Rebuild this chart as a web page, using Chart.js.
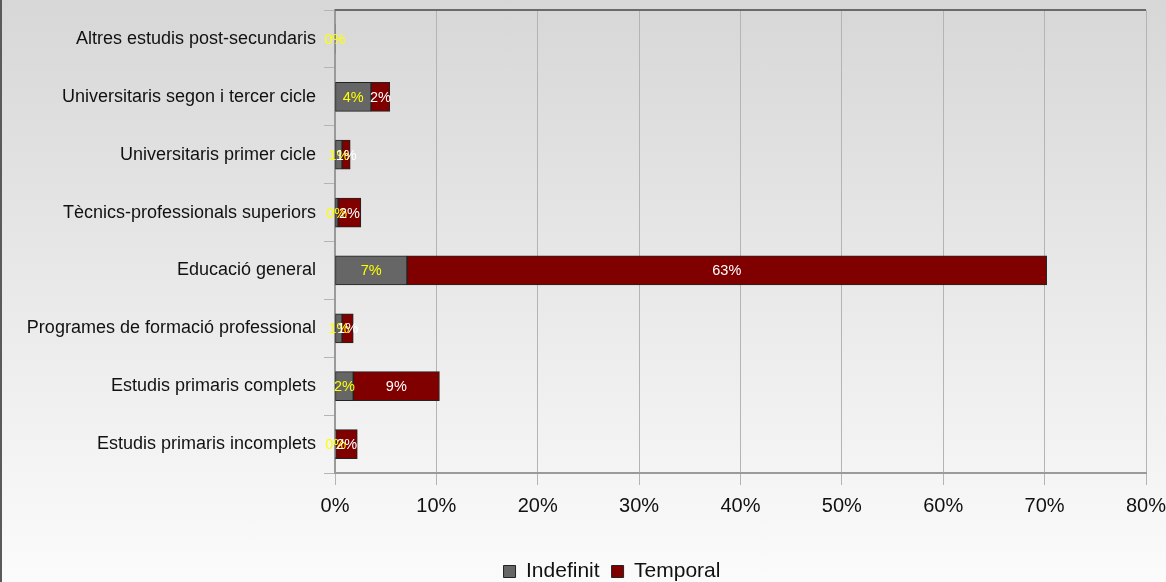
<!DOCTYPE html>
<html lang="ca">
<head>
    <meta charset="UTF-8">
    <title>Contractes per nivell d'estudis</title>
    <script src="https://cdnjs.cloudflare.com/ajax/libs/Chart.js/4.4.0/chart.umd.min.js"></script>
    <style>
        * { margin: 0; padding: 0; box-sizing: border-box; }
        html, body { width: 1166px; height: 582px; overflow: hidden; }
        body {
            background: linear-gradient(180deg, #d7d7d7 0%, #fbfbfb 100%);
            border-left: 2px solid #5a5a5a;
        }
        .wrap { position: relative; width: 1164px; height: 582px; }
    </style>
</head>
<body>
    <div class="wrap"><canvas id="chart"></canvas></div>

    <script>
        const categories = [
            'Altres estudis post-secundaris',
            'Universitaris segon i tercer cicle',
            'Universitaris primer cicle',
            'Tècnics-professionals superiors',
            'Educació general',
            'Programes de formació professional',
            'Estudis primaris complets',
            'Estudis primaris incomplets'
        ];
        const indefinit = [0, 3.55, 0.7, 0.3, 7.1, 0.7, 1.8, 0.1];
        const temporal = [null, 1.85, 0.8, 2.25, 63.1, 1.1, 8.5, 2.1];
        const xTicks = [0, 10, 20, 30, 40, 50, 60, 70, 80];

        const labelColors = ['#ffff00', '#ffffff'];
        const font = '"Liberation Sans", Arial, sans-serif';

        // value labels drawn in the middle of each segment
        const valueLabels = {
            id: 'valueLabels',
            afterDatasetsDraw(chart) {
                const ctx = chart.ctx;
                ctx.save();
                ctx.font = '14.5px ' + font;
                ctx.textAlign = 'center';
                ctx.textBaseline = 'middle';
                chart.data.datasets.forEach((ds, i) => {
                    const meta = chart.getDatasetMeta(i);
                    meta.data.forEach((el, j) => {
                        const v = ds.data[j];
                        if (v === null) return;
                        ctx.fillStyle = labelColors[i];
                        ctx.fillText(Math.round(v) + '%', (el.x + el.base) / 2, el.y + 1);
                    });
                });
                ctx.restore();
            }
        };

        // dark top line of the plot area
        const frame = {
            id: 'frame',
            afterLayout(chart) {
                // legend sits a bit right of the canvas centre
                chart.legend.left += 38;
                chart.legend.right += 38;
            },
            afterDraw(chart) {
                const { ctx, chartArea: a } = chart;
                ctx.save();
                ctx.strokeStyle = '#6a6a6a';
                ctx.lineWidth = 2;
                ctx.beginPath();
                ctx.moveTo(a.left, a.top);
                ctx.lineTo(a.right, a.top);
                ctx.stroke();
                ctx.restore();
            }
        };

        const border = ctx => (ctx.raw ? 1 : 0);

        new Chart(document.getElementById('chart'), {
            type: 'bar',
            data: {
                labels: categories,
                datasets: [{
                    label: 'Indefinit',
                    data: indefinit,
                    backgroundColor: '#666666',
                    borderColor: '#222222',
                    borderWidth: border,
                    borderSkipped: false,
                    barThickness: 29
                }, {
                    label: 'Temporal',
                    data: temporal,
                    backgroundColor: '#800000',
                    borderColor: '#222222',
                    borderWidth: border,
                    borderSkipped: false,
                    barThickness: 29
                }]
            },
            options: {
                indexAxis: 'y',
                responsive: true,
                maintainAspectRatio: false,
                animation: false,
                layout: { padding: { top: 10, right: 20, bottom: -10, left: 0 } },
                scales: {
                    x: {
                        stacked: true,
                        min: 0,
                        max: 80,
                        afterBuildTicks(scale) {
                            scale.ticks = xTicks.map(v => ({ value: v }));
                        },
                        afterFit(scale) {
                            scale.height = 76;
                            scale.paddingLeft = 0;
                            scale.paddingRight = 0;
                        },
                        ticks: {
                            color: '#111111',
                            font: { size: 20, family: font },
                            padding: 9,
                            callback: v => v + '%'
                        },
                        grid: { color: '#b4b4b4', lineWidth: 1, tickLength: 12 },
                        border: { color: '#9a9a9a', width: 2 }
                    },
                    y: {
                        stacked: true,
                        afterFit(scale) {
                            scale.width = 333;
                            scale.paddingTop = 0;
                            scale.paddingBottom = 0;
                        },
                        ticks: {
                            color: '#111111',
                            font: { size: 18, family: font },
                            padding: 8
                        },
                        grid: { drawOnChartArea: false, offset: true, color: '#b4b4b4', tickLength: 11 },
                        border: { color: '#9a9a9a', width: 2 }
                    }
                },
                plugins: {
                    legend: {
                        position: 'bottom',
                        labels: {
                            color: '#111111',
                            font: { size: 21, family: font },
                            boxWidth: 12,
                            boxHeight: 12,
                            padding: 12,
                            generateLabels(chart) {
                                return Chart.defaults.plugins.legend.labels.generateLabels(chart).map(item => {
                                    item.lineWidth = 1;
                                    item.strokeStyle = '#222222';
                                    return item;
                                });
                            }
                        }
                    },
                    tooltip: { enabled: false }
                }
            },
            plugins: [valueLabels, frame]
        });
    </script>
</body>
</html>
